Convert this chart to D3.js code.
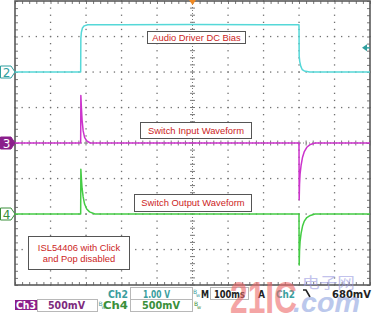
<!DOCTYPE html>
<html><head><meta charset="utf-8">
<script src="https://cdn.jsdelivr.net/npm/d3@7"></script>
<style>body{margin:0;background:#fff}svg{display:block}</style>
</head><body><svg id="c" width="376" height="318"></svg>
<script>
// ---- data ----
const timeRangeMs = [0, 1000];           // 10 div x 100 ms
const divRange = [-4, 4];                // 8 vertical divisions
const channelNames = ["2", "3", "4"];
const channelVoltsPerDiv = [1.0, 0.5, 0.5];
const channelOffsetDiv = [2, 0, -2];
// [time ms, volts]
const ch2Points = [[0,0],[185,0],[185.5,0.95],[187,1.12],[190,1.24],[195,1.3],[205,1.33],[300,1.33],[500,1.34],[700,1.33],[800,1.33],[800.5,0.45],[802,0.3],[805,0.16],[809,0.07],[815,0.03],[830,0],[1000,0]];
const ch3Points = [[0,0],[185,0],[185.5,0.67],[187,0.5],[189,0.32],[192,0.17],[196,0.08],[202,0.03],[212,0],[800,0],[800.5,-0.8],[801.5,-0.58],[803,-0.44],[806,-0.31],[810,-0.2],[815,-0.12],[822,-0.06],[832,-0.02],[845,0],[1000,0]];
const ch4Points = [[0,0],[185,0],[185.5,0.63],[187,0.5],[189,0.36],[192,0.24],[196,0.14],[202,0.07],[210,0.03],[225,0],[800,0],[800.5,-0.72],[801.5,-0.52],[803,-0.39],[806,-0.27],[810,-0.17],[815,-0.1],[822,-0.05],[832,-0.02],[845,0],[1000,0]];
const labelTexts = ["Audio Driver DC Bias", "Switch Input Waveform", "Switch Output Waveform"];
const noteLines = ["ISL54406 with Click", "and Pop disabled"];
const statusCh2 = ["Ch2", "1.00 V"];
const statusCh3 = ["Ch3", "500mV"];
const statusCh4 = ["Ch4", "500mV"];
const timebase = ["M", "100ms"];
const trigger = ["A", "Ch2", "680mV"];
const triggerLevelV = 0.68;
const triggerTimeMs = 500;

// ---- layout ----
const svg = d3.select("#c");
const L = 15, R = 370, T = 1, B = 285;
const x = d3.scaleLinear().domain(timeRangeMs).range([L, R]);
const yd = d3.scaleLinear().domain(divRange).range([B, T]);
const minorT = d3.range(0, 1000.01, 20);
const minorD = d3.range(-4, 4.001, 0.2);
const majorT = d3.range(100, 901, 100).filter(t => t !== 500);
const majorD = [-3, -2, -1, 1, 2, 3];
const traceColors = ["#55d8d8", "#cc33cc", "#44cc44"];
const markColors = ["#2f9f9f", "#8b1f8b", "#3a8f3a"];

svg.append("rect").attr("width", 376).attr("height", 318).attr("fill", "#fff");

// grid dots
const grid = svg.append("g").attr("fill", "#707070");
majorT.forEach(t => minorD.forEach(d => grid.append("rect").attr("x", x(t) - 0.6).attr("y", yd(d) - 0.6).attr("width", 1.3).attr("height", 1.3)));
majorD.forEach(d => minorT.forEach(t => grid.append("rect").attr("x", x(t) - 0.6).attr("y", yd(d) - 0.6).attr("width", 1.3).attr("height", 1.3)));

// center cross with minor ticks
const cx = x(500), cy = yd(0);
const cross = svg.append("g").attr("stroke", "#7a7a7a").attr("stroke-width", 1);
cross.append("line").attr("x1", cx).attr("x2", cx).attr("y1", T).attr("y2", B).attr("stroke-dasharray", "1,2");
cross.append("line").attr("x1", L).attr("x2", R).attr("y1", cy).attr("y2", cy).attr("stroke-dasharray", "1,2");
minorD.forEach(d => cross.append("line").attr("x1", cx - 2.5).attr("x2", cx + 2.5).attr("y1", yd(d)).attr("y2", yd(d)));
minorT.forEach(t => cross.append("line").attr("x1", x(t)).attr("x2", x(t)).attr("y1", cy - 2.5).attr("y2", cy + 2.5));

// frame ticks via axes
function noDomain(g) { g.select(".domain").remove(); g.selectAll("line").attr("stroke", "#777"); g.selectAll("text").remove(); }
svg.append("g").attr("transform", `translate(0,${B})`).call(d3.axisTop(x).tickValues(minorT).tickSize(3).tickFormat("")).call(noDomain);
svg.append("g").attr("transform", `translate(0,${T})`).call(d3.axisBottom(x).tickValues(minorT).tickSize(3).tickFormat("")).call(noDomain);
svg.append("g").attr("transform", `translate(${L},0)`).call(d3.axisRight(yd).tickValues(minorD).tickSize(3).tickFormat("")).call(noDomain);
svg.append("g").attr("transform", `translate(${R},0)`).call(d3.axisLeft(yd).tickValues(minorD).tickSize(3).tickFormat("")).call(noDomain);

// frame
svg.append("rect").attr("x", L).attr("y", T).attr("width", R - L).attr("height", B - T)
  .attr("fill", "none").attr("stroke", "#5a5a5a").attr("stroke-width", 1.6);

// traces
const series = [ch2Points, ch3Points, ch4Points];
series.forEach((pts, i) => {
  const line = d3.line().x(d => x(d[0])).y(d => yd(d[1] / channelVoltsPerDiv[i] + channelOffsetDiv[i]));
  svg.append("path").datum(pts).attr("d", line).attr("fill", "none")
    .attr("stroke", traceColors[i]).attr("stroke-width", 1.5).attr("stroke-linejoin", "round");
});

// channel ground markers
channelNames.forEach((n, i) => {
  const y0 = yd(channelOffsetDiv[i]);
  const filled = i === 1;
  svg.append("path").attr("d", `M0.5,${y0 - 6}H11L15,${y0}L11,${y0 + 6}H0.5Z`)
    .attr("fill", filled ? markColors[i] : "#fff").attr("stroke", markColors[i]).attr("stroke-width", 1);
  svg.append("text").attr("x", 6.5).attr("y", y0 + 4.5).attr("text-anchor", "middle")
    .attr("font-family", "DejaVu Sans, sans-serif").attr("font-size", 12)
    .attr("fill", filled ? "#fff" : markColors[i]).text(n);
});

// trigger position marker (top) and level marker (right)
const tx = x(triggerTimeMs);
svg.append("path").attr("d", `M${tx - 3.5},0H${tx + 3.5}L${tx},5Z`).attr("fill", "#f08a24");
const ty = yd(triggerLevelV / channelVoltsPerDiv[0] + channelOffsetDiv[0]);
svg.append("path").attr("d", `M${R - 8},${ty}L${R - 3},${ty - 3.5}V${ty + 3.5}Z`).attr("fill", "#2f9f9f");
svg.append("line").attr("x1", R - 4).attr("x2", R).attr("y1", ty).attr("y2", ty).attr("stroke", "#2f9f9f").attr("stroke-width", 1.4);

// annotation boxes
const boxes = [
  {text: [labelTexts[0]], x: 147, y: 31, w: 98, h: 12, by: [40.5]},
  {text: [labelTexts[1]], x: 140, y: 122, w: 111, h: 16, by: [133.5]},
  {text: [labelTexts[2]], x: 134, y: 194, w: 117, h: 17, by: [206]},
  {text: noteLines, x: 28, y: 236, w: 101, h: 33, by: [250.5, 261.5]}
];
boxes.forEach(b => {
  svg.append("rect").attr("x", b.x + 0.5).attr("y", b.y + 0.5).attr("width", b.w).attr("height", b.h)
    .attr("fill", "#fff").attr("stroke", "#555").attr("stroke-width", 1);
  b.text.forEach((t, k) => svg.append("text").attr("x", b.x + b.w / 2 + 0.5).attr("y", b.by[k])
    .attr("text-anchor", "middle").attr("font-family", "Liberation Sans, Arial, sans-serif")
    .attr("font-size", 9.4).attr("fill", "#cc2424").text(t));
});

// status bar
const st = svg.append("g").attr("font-family", "DejaVu Sans, sans-serif").attr("font-weight", "bold");
function box(x0, y0, w, h) {
  st.append("rect").attr("x", x0 + 0.5).attr("y", y0 + 0.5).attr("width", w).attr("height", h)
    .attr("fill", "#fff").attr("stroke", "#b8b8b8").attr("stroke-width", 1);
}
function txt(s, x0, w, y0, color, size) {
  st.append("text").attr("x", x0).attr("y", y0).attr("font-size", size || 10.5)
    .attr("textLength", w).attr("lengthAdjust", "spacingAndGlyphs").attr("fill", color).text(s);
}
function bw(x0, y0, color) {
  st.append("text").attr("x", x0).attr("y", y0).attr("font-size", 6).attr("font-weight", "normal").attr("fill", color).text("B");
  st.append("text").attr("x", x0 + 3).attr("y", y0 + 3).attr("font-size", 5).attr("font-weight", "normal").attr("fill", color).text("w");
}
// row 1
box(130, 287, 62, 12);
txt(statusCh2[0], 108, 20, 298, "#3a9e9e", 10.5);
txt(statusCh2[1], 143, 27, 298, "#3a9e9e", 10.5);
// row 2
st.append("rect").attr("x", 15).attr("y", 300).attr("width", 22).attr("height", 10).attr("fill", "#8b1f8b");
txt(statusCh3[0], 16, 20, 309, "#fff", 10.5);
box(37, 299, 60, 12);
txt(statusCh3[1], 48, 37, 309, "#7d2a7d", 10.5);
bw(98.5, 306, "#3a9e9e");
txt(statusCh4[0], 103, 25, 309, "#3a8f3a", 10.5);
box(130, 299, 62, 12);
txt(statusCh4[1], 142, 38, 309, "#3a8f3a", 10.5);
// right side
bw(193, 294, "#3a9e9e");
bw(194, 306, "#3a8f3a");
box(197, 299, 0, 12);
txt(timebase[0], 201, 8, 298, "#222", 10.5);
box(210, 287, 38, 12);
txt(timebase[1], 214, 31, 298, "#222", 10.5);
txt(trigger[0], 258, 7, 298, "#222", 10.5);
txt(trigger[1], 276, 19, 298, "#3a9e9e", 10.5);
st.append("path").attr("d", "M303,290H306L310,297").attr("fill", "none").attr("stroke", "#222").attr("stroke-width", 1.6);
txt(trigger[2], 332, 39, 298, "#222", 10.5);

// watermark
const wm = svg.append("g").attr("opacity", 0.6);
wm.append("text").attr("x", 230).attr("y", 313).attr("font-family", "Liberation Sans, Arial, sans-serif")
  .attr("font-weight", "bold").attr("font-size", 45).attr("textLength", 67).attr("lengthAdjust", "spacingAndGlyphs")
  .attr("fill", "#ee6a6a").text("21IC");
wm.append("text").attr("x", 302).attr("y", 288).attr("font-family", "Noto Sans CJK SC, sans-serif")
  .attr("font-size", 15).attr("textLength", 53).attr("lengthAdjust", "spacingAndGlyphs")
  .attr("fill", "#9a9ae0").text("电子网");
wm.append("text").attr("x", 293).attr("y", 312).attr("font-family", "Liberation Sans, Arial, sans-serif")
  .attr("font-weight", "bold").attr("font-style", "italic").attr("font-size", 28).attr("textLength", 67).attr("lengthAdjust", "spacingAndGlyphs")
  .attr("fill", "#8fa4e0").text(".com");
</script></body></html>
